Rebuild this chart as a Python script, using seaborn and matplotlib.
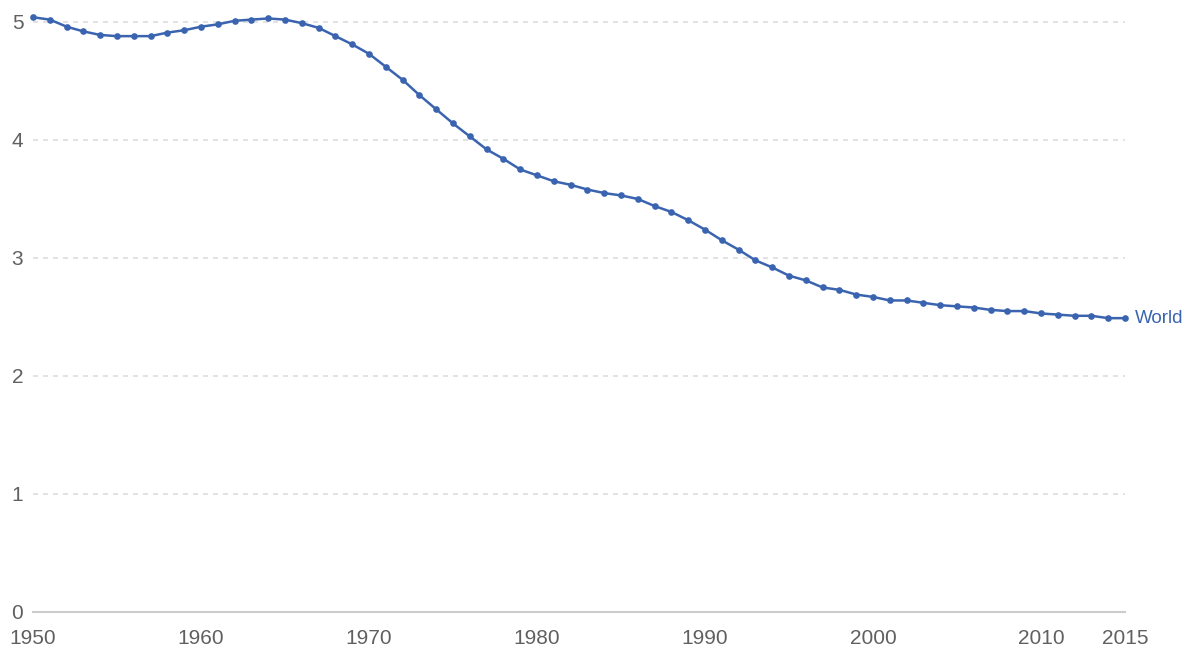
import pandas as pd
import numpy as np
import matplotlib.pyplot as plt
import seaborn as sns

# fertility rate, world (births per woman)
years = list(range(1950, 2016))
fertility = [5.04, 5.02, 4.96, 4.92, 4.89, 4.88, 4.88, 4.88, 4.91, 4.93,
             4.96, 4.98, 5.01, 5.02, 5.03, 5.02, 4.99, 4.95, 4.88, 4.81,
             4.73, 4.62, 4.51, 4.38, 4.26, 4.14, 4.03, 3.92, 3.84, 3.75,
             3.70, 3.65, 3.62, 3.58, 3.55, 3.53, 3.50, 3.44, 3.39, 3.32,
             3.24, 3.15, 3.07, 2.98, 2.92, 2.85, 2.81, 2.75, 2.73, 2.69,
             2.67, 2.64, 2.64, 2.62, 2.60, 2.59, 2.58, 2.56, 2.55, 2.55,
             2.53, 2.52, 2.51, 2.51, 2.49, 2.49]
x_ticks = [1950, 1960, 1970, 1980, 1990, 2000, 2010, 2015]
y_ticks = [0, 1, 2, 3, 4, 5]
series_name = "World"

df = pd.DataFrame({"year": years, "value": fertility})

sns.set_style("white")
plt.rcParams['font.family'] = ['Liberation Sans', 'DejaVu Sans']

fig = plt.figure(figsize=(11.93, 6.48), dpi=100)
ax = fig.add_axes([0.0277, 0.0556, 0.9153, 0.9287])

color = "#3B64B0"
sns.lineplot(data=df, x="year", y="value", ax=ax, color=color,
             linewidth=1.8, marker="o", markersize=4.8,
             markeredgewidth=0, markerfacecolor=color, clip_on=False)

ax.set_xlim(1950, 2015)
ax.set_ylim(0, 5.1)
ax.set_xticks(x_ticks)
ax.set_yticks(y_ticks)
ax.set_xlabel("")
ax.set_ylabel("")

# -----------------------------
#   grid e eixos
# -----------------------------
for v in y_ticks[1:]:
    ax.axhline(v, color="#dddddd", linestyle=(0, (3, 3)), linewidth=1.2, zorder=0)

for s in ["top", "right", "left"]:
    ax.spines[s].set_visible(False)
ax.spines["bottom"].set_color("#cccccc")
ax.spines["bottom"].set_linewidth(1.5)

ax.tick_params(axis="x", length=0, pad=12, labelsize=15, labelcolor="#606060")
ax.tick_params(axis="y", length=0, pad=7, labelsize=15, labelcolor="#606060")

ax.text(years[-1] + 0.6, fertility[-1], series_name, color=color,
        fontsize=13.5, va="center", ha="left", clip_on=False)

fig.savefig("out.png", dpi=100)
